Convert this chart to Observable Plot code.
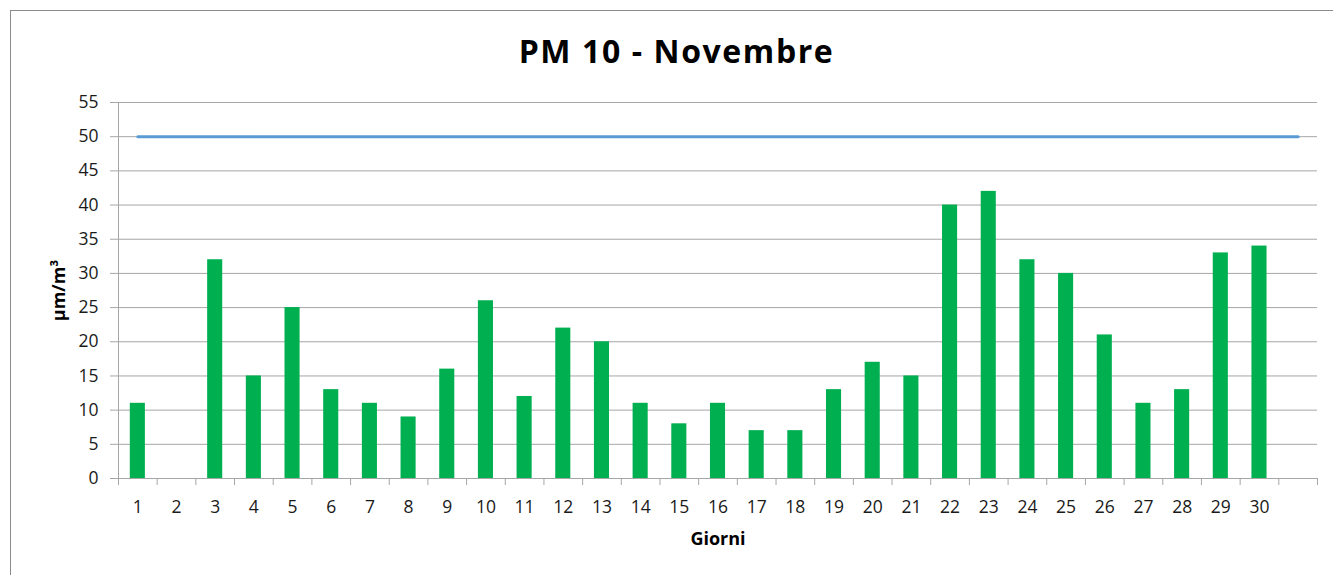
<!DOCTYPE html>
<html>
<head>
<meta charset="utf-8">
<script src="https://cdn.jsdelivr.net/npm/d3@7"></script>
<script src="https://cdn.jsdelivr.net/npm/@observablehq/plot@0.6"></script>
<style>
  html, body { margin: 0; padding: 0; background: #fff; overflow: hidden; }
  body { width: 1333px; height: 575px; position: relative; font-family: "Open Sans", Lato, sans-serif; }
  #frame { position: absolute; left: 10px; top: 10px; width: 1400px; height: 700px; border: 1px solid #8c8c8c; box-sizing: border-box; }
  #title { position: absolute; top: 29px; left: 20px; width: 1313px; text-align: center; font-size: 32px; font-weight: 700; letter-spacing: 1.6px; color: #000; }
  #chart { position: absolute; left: 0; top: 80px; }
</style>
</head>
<body>
<div id="frame"></div>
<div id="title">PM 10 - Novembre</div>
<div id="chart"></div>
<script>
// Categories (31 slots; the last one is an empty category)
const days = ["1","2","3","4","5","6","7","8","9","10","11","12","13","14","15","16","17","18","19","20","21","22","23","24","25","26","27","28","29","30",""];
// PM10 daily values; day 2 missing
const pm10 = [11, null, 32, 15, 25, 13, 11, 9, 16, 26, 12, 22, 20, 11, 8, 11, 7, 7, 13, 17, 15, 40, 42, 32, 30, 21, 11, 13, 33, 34, null];
// Limit value series
const limitValue = 50;
const yTicks = [0, 5, 10, 15, 20, 25, 30, 35, 40, 45, 50, 55];

const bars = days.map((d, i) => ({day: d, v: pm10[i]})).filter(d => d.v != null);
const limitLine = days.map(d => ({day: d, v: limitValue}));

const W = 1333, H = 495;
const mL = 118, mR = 16;
const step = (W - mL - mR) / days.length;
const font = "'Open Sans', Lato, sans-serif";

const chart = Plot.plot({
  width: W,
  height: H,
  marginLeft: mL,
  marginRight: mR,
  marginTop: 22,
  marginBottom: 97,
  style: {fontFamily: font, fontSize: "17.5px", color: "#000", background: "transparent"},
  x: {domain: days, paddingInner: 0.61, paddingOuter: 0.305, round: false, label: null},
  y: {domain: [0, 55], label: null},
  marks: [
    Plot.gridY(yTicks, {stroke: "#a6a6a6", strokeOpacity: 1, strokeWidth: 1}),
    Plot.frame({anchor: "left", stroke: "#a6a6a6"}),
    Plot.axisY(yTicks, {tickSize: 8, tickPadding: 12, stroke: "#a6a6a6", fontSize: 17.5, fill: "#1a1a1a",
      label: "µm/m³", labelAnchor: "center", labelOffset: 66, labelArrow: "none"}),
    Plot.ruleY([0], {stroke: "#a6a6a6"}),
    Plot.barY(bars, {x: "day", y: "v", fill: "#00b050"}),
    Plot.lineY(limitLine, {x: "day", y: "v", stroke: "#5b9bd5", strokeWidth: 3}),
    Plot.axisX({tickSize: 7, stroke: "#a6a6a6", dx: -step / 2, text: null, label: null}),
    Plot.axisX([""], {tickSize: 7, stroke: "#a6a6a6", dx: step / 2, text: null, label: null}),
    Plot.axisX({tickSize: 0, tickPadding: 22, fontSize: 17.5, fill: "#1a1a1a", label: "Giorni", labelAnchor: "center", labelOffset: 66, labelArrow: "none"})
  ]
});
document.getElementById("chart").appendChild(chart);
// bold axis titles only
chart.querySelectorAll("g[aria-label='y-axis label'] text, g[aria-label='x-axis label'] text").forEach(t => {
  t.setAttribute("font-weight", "bold");
  t.setAttribute("font-size", "18");
  t.setAttribute("fill", "#000");
});
</script>
</body>
</html>
